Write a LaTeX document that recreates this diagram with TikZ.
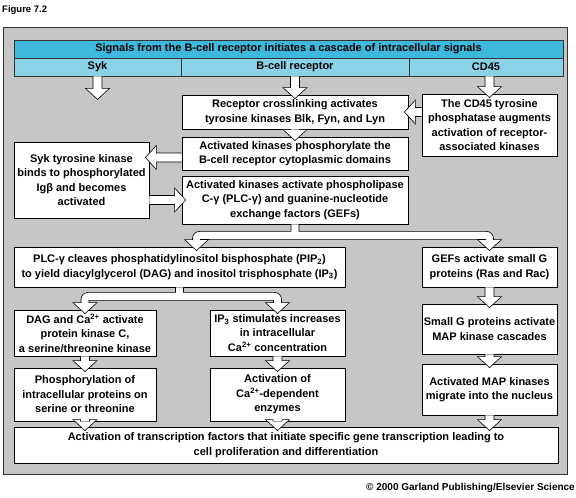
\documentclass[tikz,border=0pt]{standalone}
\usepackage{fontspec}
\setmainfont{Liberation Sans}
\usetikzlibrary{calc}
\definecolor{panelgray}{RGB}{198,198,198}
\definecolor{hdark}{RGB}{62,184,220}
\definecolor{hlight}{RGB}{138,210,232}
\tikzset{
  box/.style={draw=black, fill=white, line width=0.8pt, align=center, inner sep=0pt,
    font=\bfseries\fontsize{11}{14.5}\selectfont},
  fat/.style={draw=black, fill=white, line width=0.6pt, line join=miter},
  hdr/.style={draw=black!80, line width=0.8pt, inner sep=0pt,
    font=\bfseries\fontsize{11}{12}\selectfont},
}
\newcommand\fatarrow[2]{%
  \coordinate (fa-t) at ($(#2)!-4pt!(#1)$);
  \coordinate (fa-n) at ($(fa-t)!11pt!(#1)$);
  \filldraw[fat] ($(#1)!4.5pt!90:(fa-t)$) -- ($(fa-n)!4.5pt!90:(fa-t)$) -- ($(fa-n)!12pt!90:(fa-t)$) -- (fa-t)
    -- ($(fa-n)!12pt!-90:(fa-t)$) -- ($(fa-n)!4.5pt!-90:(fa-t)$) -- ($(#1)!4.5pt!-90:(fa-t)$);
}
% #1 source point, #2 left tip, #3 right tip, #4 drop to band centre
\newcommand\branch[4]{%
  \filldraw[fat] let \p0=(#1), \p1=(#2), \p2=(#3), \p3=($(#1)+(0,-#4)$) in
  (\x0+4pt,\y0) -- (\x0+4pt,\y3+4pt) -- (\x2-3pt,\y3+4pt)
  arc[start angle=90,end angle=0,radius=7pt]
  -- (\x2+4pt,\y2+11pt) -- (\x2+12pt,\y2+11pt) -- (\x2,\y2) -- (\x2-12pt,\y2+11pt) -- (\x2-4pt,\y2+11pt)
  -- (\x2-4pt,\y3-4pt) -- (\x1+4pt,\y3-4pt)
  -- (\x1+4pt,\y1+11pt) -- (\x1+12pt,\y1+11pt) -- (\x1,\y1) -- (\x1-12pt,\y1+11pt) -- (\x1-4pt,\y1+11pt)
  -- (\x1-4pt,\y3-3pt) arc[start angle=180,end angle=90,radius=7pt]
  -- (\x0-4pt,\y3+4pt) -- (\x0-4pt,\y0);
}
\begin{document}
\begin{tikzpicture}[x=1pt,y=1pt]
\useasboundingbox (0,0) rectangle (576,-498);
\fill[white] (0,0) rectangle (576,-498);

\node[anchor=north west, inner sep=0pt, font=\bfseries\fontsize{9.5}{10}\selectfont] (title) at (2,-5) {Figure 7.2};

\node[draw=black!80, fill=panelgray, line width=1pt, minimum width=564pt, minimum height=447pt, inner sep=0pt] (panel) at (285,-250.5) {};

% header
\node[hdr, fill=hdark, minimum width=549pt, minimum height=18pt] (htitle) at (288.5,-49) {Signals from the B-cell receptor initiates a cascade of intracellular signals};
\node[hdr, fill=hlight, minimum width=167pt, minimum height=18pt] (hsyk) at (97.5,-67) {Syk};
\node[hdr, fill=hlight, minimum width=228pt, minimum height=18pt] (hbcr) at (295,-67) {B-cell receptor};
\node[hdr, fill=hlight, minimum width=154pt, minimum height=18pt] (hcd) at (486,-67) {CD45};

% boxes
\node[box, minimum width=226pt, minimum height=34pt] (b1) at (295,-112) {Receptor crosslinking activates\\tyrosine kinases Blk, Fyn, and Lyn};
\node[box, minimum width=135pt, minimum height=62pt] (cd) at (489.5,-125) {The CD45 tyrosine\\phosphatase augments\\activation of receptor-\\associated kinases};
\node[box, minimum width=226pt, minimum height=33pt] (b2) at (295,-153.5) {Activated kinases phosphorylate the\\B-cell receptor cytoplasmic domains};
\node[box, minimum width=135pt, minimum height=76pt] (syk) at (81.5,-180) {Syk tyrosine kinase\\binds to phosphorylated\\Igβ and becomes\\activated};
\node[box, minimum width=226pt, minimum height=48pt] (b3) at (295,-200) {Activated kinases activate phospholipase\\C-γ (PLC-γ) and guanine-nucleotide\\exchange factors (GEFs)};
\node[box, minimum width=331pt, minimum height=40pt] (plc) at (179.5,-267) {PLC-γ cleaves phosphatidylinositol bisphosphate (PIP\textsubscript{2})\\to yield diacylglycerol (DAG) and inositol trisphosphate (IP\textsubscript{3})};
\node[box, minimum width=135pt, minimum height=40pt] (gef) at (489.5,-267) {GEFs activate small G\\proteins (Ras and Rac)};
\node[box, minimum width=142pt, minimum height=46pt] (dag) at (85,-333) {DAG and Ca\textsuperscript{2+} activate\\protein kinase C,\\a serine/threonine kinase};
\node[box, minimum width=135pt, minimum height=46pt] (ip3) at (277.5,-333) {IP\textsubscript{3} stimulates increases\\in intracellular\\Ca\textsuperscript{2+} concentration};
\node[box, minimum width=135pt, minimum height=50pt] (smg) at (489.5,-329) {Small G proteins activate\\MAP kinase cascades};
\node[box, minimum width=142pt, minimum height=53pt] (phos) at (85,-394.5) {Phosphorylation of\\intracellular proteins on\\serine or threonine};
\node[box, minimum width=135pt, minimum height=53pt] (act) at (277.5,-394.5) {Activation of\\Ca\textsuperscript{2+}-dependent\\enzymes};
\node[box, minimum width=135pt, minimum height=51pt] (map) at (489.5,-389.5) {Activated MAP kinases\\migrate into the nucleus};
\node[box, minimum width=544pt, minimum height=36pt] (trans) at (286,-445) {Activation of transcription factors that initiate specific gene transcription leading to\\cell proliferation and differentiation};

\node[anchor=south east, inner sep=0pt, font=\bfseries\fontsize{10}{11}\selectfont] (copy) at (575,-493) {© 2000 Garland Publishing/Elsevier Science};

% arrows
\coordinate (sykend) at ($(hsyk.south)+(0,-19)$);
\fatarrow{hsyk.south}{sykend}
\fatarrow{hbcr.south}{b1.north}
\fatarrow{hcd.south -| cd.north}{cd.north}
\fatarrow{cd.west |- b1.east}{b1.east}
\fatarrow{b1.south}{b2.north}
\coordinate (b2l) at ($(b2.west)+(0,-4)$);
\fatarrow{b2l}{syk.east |- b2l}
\fatarrow{syk.east |- b3.west}{b3.west}

\coordinate (t1l) at ($(plc.north)+(17,-4)$);
\coordinate (t1r) at ($(gef.north)+(0,-4)$);
\branch{b3.south}{t1l}{t1r}{11}
\coordinate (t2l) at ($(dag.north)+(0,-4)$);
\coordinate (t2r) at ($(ip3.north)+(0,-4)$);
\branch{plc.south}{t2l}{t2r}{9}

\fatarrow{gef.south}{smg.north}
\fatarrow{smg.south}{map.north}
\fatarrow{dag.south}{phos.north}
\fatarrow{ip3.south}{act.north}
\fatarrow{phos.south}{trans.north -| phos.south}
\fatarrow{act.south}{trans.north -| act.south}
\fatarrow{map.south}{trans.north -| map.south}
\end{tikzpicture}
\end{document}
